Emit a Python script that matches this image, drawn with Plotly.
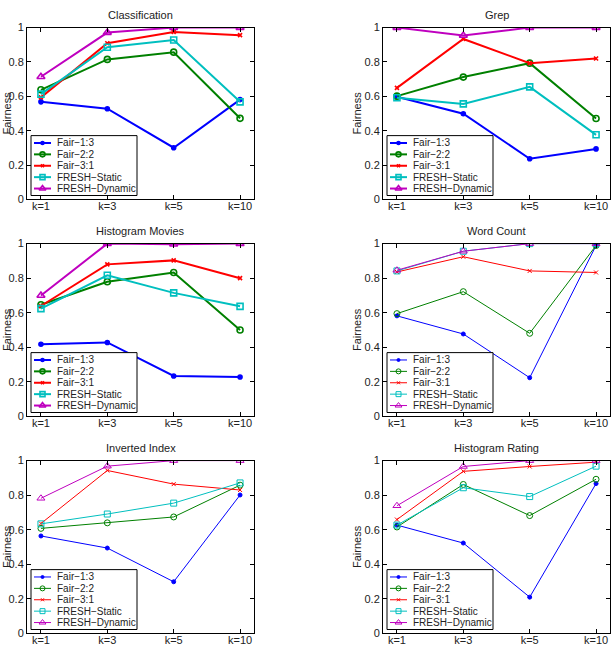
import plotly.graph_objects as go

ks = ["k=1", "k=3", "k=5", "k=10"]
series_names = ["Fair\u22121:3", "Fair\u22122:2", "Fair\u22123:1", "FRESH\u2212Static", "FRESH\u2212Dynamic"]

titles = ["Classification", "Grep", "Histogram Movies", "Word Count", "Inverted Index", "Histogram Rating"]

classification = [
    [0.568, 0.528, 0.301, 0.581],
    [0.638, 0.815, 0.857, 0.472],
    [0.594, 0.909, 0.975, 0.956],
    [0.613, 0.886, 0.928, 0.568],
    [0.714, 0.971, 1.000, 1.000],
]
grep = [
    [0.598, 0.499, 0.237, 0.294],
    [0.601, 0.712, 0.793, 0.471],
    [0.649, 0.934, 0.793, 0.820],
    [0.592, 0.556, 0.655, 0.376],
    [1.000, 0.954, 1.000, 1.000],
]
histogram_movies = [
    [0.418, 0.428, 0.234, 0.228],
    [0.646, 0.779, 0.833, 0.500],
    [0.639, 0.880, 0.903, 0.800],
    [0.624, 0.817, 0.715, 0.637],
    [0.700, 1.000, 0.996, 1.000],
]
word_count = [
    [0.582, 0.477, 0.224, 0.989],
    [0.595, 0.722, 0.481, 0.989],
    [0.836, 0.924, 0.842, 0.833],
    [0.842, 0.956, 1.000, 1.000],
    [0.846, 0.956, 1.000, 1.000],
]
inverted_index = [
    [0.564, 0.494, 0.299, 0.801],
    [0.608, 0.640, 0.674, 0.858],
    [0.636, 0.943, 0.864, 0.830],
    [0.634, 0.691, 0.754, 0.871],
    [0.782, 0.968, 1.000, 1.000],
]
histogram_rating = [
    [0.627, 0.523, 0.210, 0.867],
    [0.616, 0.862, 0.682, 0.892],
    [0.659, 0.938, 0.966, 0.991],
    [0.627, 0.843, 0.792, 0.968],
    [0.739, 0.966, 1.000, 1.000],
]
y_ticks = [0, 0.2, 0.4, 0.6, 0.8, 1]
y_tick_labels = ["0", "0.2", "0.4", "0.6", "0.8", "1"]

panels = [classification, grep, histogram_movies, word_count, inverted_index, histogram_rating]
thick = [True, True, True, False, False, False]

colors = ["#0000ff", "#008000", "#ff0000", "#00bfbf", "#bf00bf"]
symbols = ["circle", "circle-open", "x-thin-open", "square-open", "triangle-up-open"]
msizes = [5, 7, 5, 7, 8]

W, H = 615, 663
# pixel boxes (left, right, top, bottom)
col_x = [(27, 254), (383, 610)]
row_y = [(22, 197), (242, 418), (463, 639)]

fig = go.Figure()
FONT = "Liberation Sans, Arial, sans-serif"
TXT = "#222"

axis_common = dict(showline=True, linecolor="black", linewidth=1, mirror="ticks",
                   ticks="inside", ticklen=4, tickcolor="black", showgrid=False,
                   zeroline=False, tickfont=dict(family=FONT, size=11, color=TXT))


def marker_style(i, j, shrink=0):
    if thick[i]:
        return dict(symbol=symbols[j], size=msizes[j] - 1 - shrink, color=colors[j],
                    line=dict(color=colors[j], width=1.6))
    return dict(symbol=symbols[j], size=msizes[j] - 1 - shrink, color=colors[j],
                line=dict(color=colors[j], width=1))


# data traces
for i, (data, title) in enumerate(zip(panels, titles)):
    r, c = i // 2, i % 2
    n = i + 1
    xa = "x" if n == 1 else f"x{n}"
    ya = "y" if n == 1 else f"y{n}"
    lw = 2 if thick[i] else 1
    for j, name in enumerate(series_names):
        fig.add_trace(go.Scatter(
            x=list(range(len(ks))), y=data[j], name=name, mode="lines+markers",
            line=dict(color=colors[j], width=lw),
            marker=marker_style(i, j),
            xaxis=xa, yaxis=ya, showlegend=False,
        ))
    x0, x1 = col_x[c]
    yt, yb = row_y[r]
    fig.layout[f"xaxis{'' if n == 1 else n}"] = dict(
        domain=[x0 / W, x1 / W], anchor=ya, range=[-0.21, 3.21],
        tickvals=list(range(len(ks))), ticktext=ks, ticklabelstandoff=-4, **axis_common)
    fig.layout[f"yaxis{'' if n == 1 else n}"] = dict(
        domain=[1 - yb / H, 1 - yt / H], anchor=xa, range=[0, 1],
        tickvals=y_ticks, ticktext=y_tick_labels, **axis_common)
    fig.add_annotation(text=title, x=(x0 + x1) / 2 / W, y=1 - (yt - 13) / H,
                       xref="paper", yref="paper", xanchor="center", yanchor="middle",
                       showarrow=False, font=dict(family=FONT, size=11, color=TXT))
    fx = 7 if c == 0 else x0 - 26
    fig.add_annotation(text="Fairness", x=fx / W, y=1 - (yt + yb) / 2 / H,
                       xref="paper", yref="paper", xanchor="center", yanchor="middle",
                       textangle=-90, showarrow=False,
                       font=dict(family=FONT, size=11, color=TXT))

# legend key boxes drawn on a hidden pixel-space overlay axis (drawn above data)
LX, LY = "x7", "y7"
fig.layout["xaxis7"] = dict(domain=[0, 1], range=[0, W], visible=False, anchor="y7", fixedrange=True)
fig.layout["yaxis7"] = dict(domain=[0, 1], range=[H, 0], visible=False, anchor="x7", fixedrange=True)
for i in range(len(panels)):
    r, c = i // 2, i % 2
    x0, _ = col_x[c]
    _, yb = row_y[r]
    lw = 2 if thick[i] else 1
    bl, br, bb = x0 + 4, x0 + 110, yb - 4
    bt = bb - 61
    fig.add_trace(go.Scatter(x=[bl, br, br, bl, bl], y=[bt, bt, bb, bb, bt], mode="lines",
                             fill="toself", fillcolor="white", line=dict(color="black", width=1),
                             xaxis=LX, yaxis=LY, showlegend=False, hoverinfo="skip"))
    for j, name in enumerate(series_names):
        cy = bt + 7.5 + 11.6 * j
        fig.add_trace(go.Scatter(x=[x0 + 7, x0 + 24], y=[cy, cy], mode="lines",
                                 line=dict(color=colors[j], width=lw),
                                 xaxis=LX, yaxis=LY, showlegend=False, hoverinfo="skip"))
        fig.add_trace(go.Scatter(x=[x0 + 15.5], y=[cy], mode="markers",
                                 marker=marker_style(i, j, shrink=1),
                                 xaxis=LX, yaxis=LY, showlegend=False, hoverinfo="skip"))
        fig.add_annotation(text=name, x=x0 + 28, y=cy, xref=LX, yref=LY,
                           xanchor="left", yanchor="middle", showarrow=False,
                           font=dict(family=FONT, size=10, color=TXT))

fig.update_layout(width=W, height=H, margin=dict(l=0, r=0, t=0, b=0),
                  paper_bgcolor="white", plot_bgcolor="rgba(0,0,0,0)", showlegend=False)
fig.write_html("out.html")
